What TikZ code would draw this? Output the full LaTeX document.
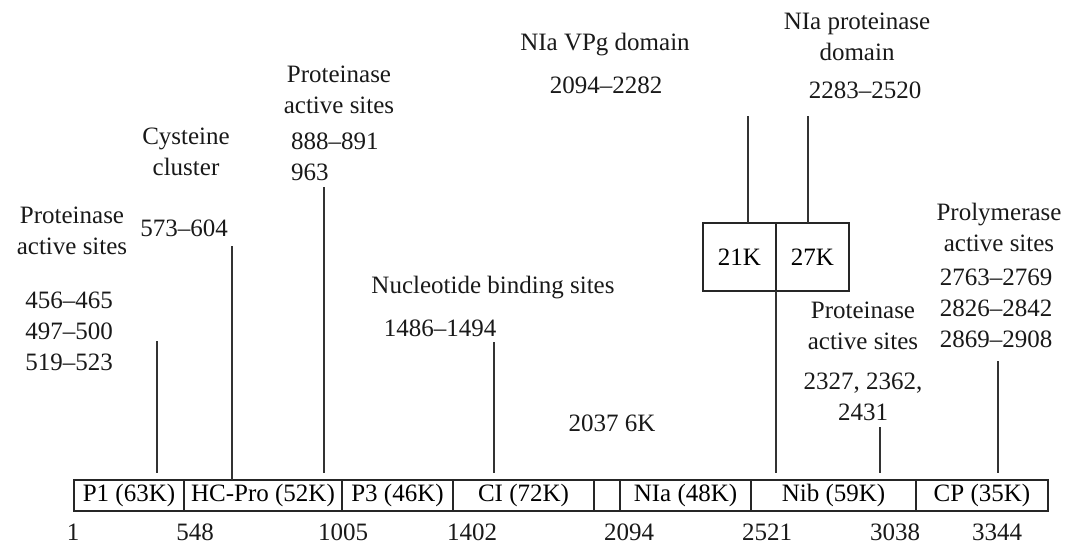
\documentclass[tikz,border=0pt]{standalone}
\usepackage{fontspec}
\setmainfont{Liberation Serif}
\usetikzlibrary{positioning}
\tikzset{
mySeg/.style={
	rectangle,draw=black!85,line width=1.2pt,
	inner sep=0pt,outer sep=0pt,minimum height=31pt
}
, myBox/.style={
	rectangle,draw=black!85,line width=1.2pt,
	inner sep=0pt,outer sep=0pt,minimum width=73pt,minimum height=68pt
}
, myText/.style={
	align=center,inner sep=0pt,text=black!90
}
% links
, mySite/.style={-,draw=black!80,line width=1.2pt,shorten >=7pt}
, myTouch/.style={-,draw=black!80,line width=1.2pt}
}

\begin{document}
\begin{tikzpicture}[x=1pt,y=-1pt,font=\fontsize{25}{31}\selectfont]
	\useasboundingbox (0,0) rectangle (1066,544);
	% polyprotein
	\node[mySeg,minimum width=110pt] (P1) at (129,495.5) {P1 (63K)};
	\node[mySeg,minimum width=158pt,right=0pt of P1] (HC) {HC-Pro (52K)};
	\node[mySeg,minimum width=111pt,right=0pt of HC] (P3) {P3 (46K)};
	\node[mySeg,minimum width=141pt,right=0pt of P3] (CI) {CI (72K)};
	\node[mySeg,minimum width=26pt,right=0pt of CI] (K6) {};
	\node[mySeg,minimum width=131pt,right=0pt of K6] (NIa) {NIa (48K)};
	\node[mySeg,minimum width=165pt,right=0pt of NIa] (Nib) {Nib (59K)};
	\node[mySeg,minimum width=132pt,right=0pt of Nib] (CP) {CP (35K)};
	% positions
	\node[myText] (n1) at (73,532) {1};
	\node[myText] (n548) at (195,532) {548};
	\node[myText] (n1005) at (343,532) {1005};
	\node[myText] (n1402) at (472,532) {1402};
	\node[myText] (n2094) at (629,532) {2094};
	\node[myText] (n2521) at (767,532) {2521};
	\node[myText] (n3038) at (895,532) {3038};
	\node[myText] (n3344) at (997,532) {3344};
	% labels
	\node[myText] (PA1) at (72,231) {Proteinase\\active sites};
	\node[myText] (PA1n) at (69,331) {456--465\\497--500\\519--523};
	\node[myText] (Cys) at (186,152) {Cysteine\\cluster};
	\node[myText] (Cysn) at (184,228) {573--604};
	\node[myText] (PA2) at (339,90) {Proteinase\\active sites};
	\node[myText,align=left,anchor=west] (PA2n) at (291,157) {888--891\\963};
	\node[myText] (Nuc) at (493,288) {Nucleotide binding sites};
	\node[myText] (Nucn) at (440,328) {1486--1494};
	\node[myText] (SixK) at (612,423) {2037 6K};
	\node[myText] (VPg) at (605,45) {NIa VPg domain};
	\node[myText] (VPgn) at (606,85) {2094--2282};
	\node[myText] (Pro) at (857,37) {NIa proteinase\\domain};
	\node[myText] (Pron) at (865,90) {2283--2520};
	\node[myText] (PA3) at (863,326) {Proteinase\\active sites};
	\node[myText] (PA3n) at (863,397) {2327, 2362,\\2431};
	\node[myText] (Pol) at (999,227) {Prolymerase\\active sites};
	\node[myText] (Poln) at (996,308) {2763--2769\\2826--2842\\2869--2908};
	% NIa split
	\node[myBox] (K21) at (739.5,257) {21K};
	\node[myBox,right=0pt of K21] (K27) {27K};
	\coordinate (v1) at (748,116);
	\coordinate (v2) at (808,116);
	\draw [myTouch] (v1) -- (v1 |- K21.north);
	\draw [myTouch] (v2) -- (v2 |- K27.north);
	\draw [mySite] (K21.south east) -- (K21.south east |- Nib.north);
	% sites
	\coordinate (s1) at (157,341);
	\coordinate (s2) at (232,246);
	\coordinate (s3) at (324,187);
	\coordinate (s4) at (494,342);
	\coordinate (s5) at (880,427);
	\coordinate (s6) at (998,361);
	\draw [mySite] (s1) -- (s1 |- P1.north);
	\draw [myTouch] (s2) -- (s2 |- HC.north);
	\draw [mySite] (s3) -- (s3 |- HC.north);
	\draw [mySite] (s4) -- (s4 |- CI.north);
	\draw [mySite] (s5) -- (s5 |- Nib.north);
	\draw [mySite] (s6) -- (s6 |- CP.north);
\end{tikzpicture}
\end{document}
